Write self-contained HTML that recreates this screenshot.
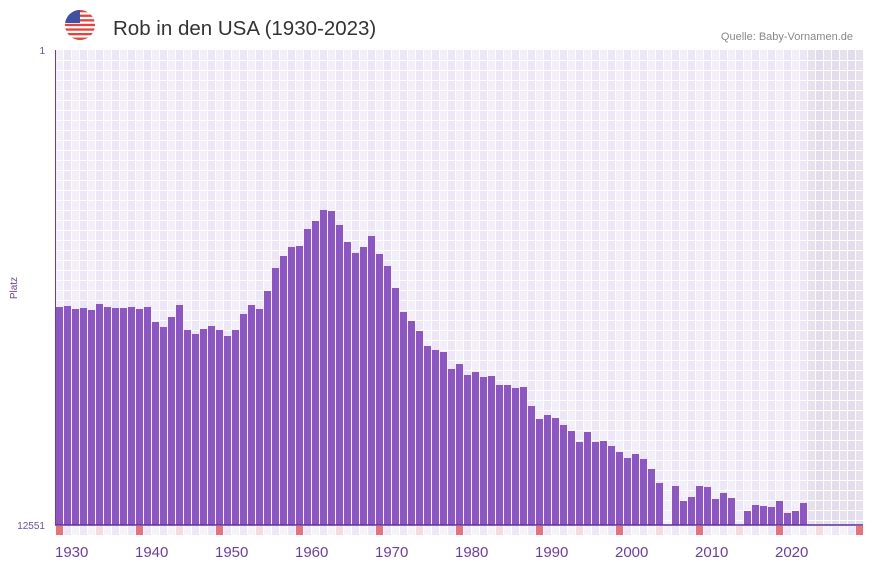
<!DOCTYPE html>
<html><head><meta charset="utf-8"><style>body{margin:0;background:#fff}svg{display:block}</style></head><body>
<svg id="s" width="873" height="567" xmlns="http://www.w3.org/2000/svg" font-family="Liberation Sans, sans-serif">
<defs>
<clipPath id="fc"><circle cx="80" cy="25" r="15"/></clipPath>
</defs>
<g clip-path="url(#fc)">
<rect x="65" y="10" width="30" height="30" fill="#fff"/>
<g fill="#e8413a"><rect x="65" y="10" width="30" height="2.3"/><rect x="65" y="14.6" width="30" height="2.3"/><rect x="65" y="19.2" width="30" height="2.3"/><rect x="65" y="23.8" width="30" height="2.3"/><rect x="65" y="28.4" width="30" height="2.3"/><rect x="65" y="33" width="30" height="2.3"/><rect x="65" y="37.6" width="30" height="2.4"/></g>
<rect x="65" y="10" width="15" height="13" fill="#3f51a3"/>
</g>
<text x="113" y="35" font-size="20.5" fill="#333">Rob in den USA (1930-2023)</text>
<text x="853" y="40" font-size="11" fill="#888" text-anchor="end">Quelle: Baby-Vornamen.de</text>
<g id="grid"></g>
<g id="bars" fill="#8e55c7"></g>
<line x1="55.5" y1="50" x2="55.5" y2="525" stroke="#6b3fa0" stroke-width="1"/>
<line x1="55" y1="525" x2="863" y2="525" stroke="#5a3190" stroke-width="1.5"/>
<text x="45" y="54" font-size="10" fill="#6b4fa0" text-anchor="end">1</text>
<text x="45" y="529" font-size="10" fill="#6b4fa0" text-anchor="end">12551</text>
<text x="17" y="288" font-size="10" fill="#6b3fa0" text-anchor="middle" transform="rotate(-90 17 288)">Platz</text>
<g id="lbl" font-size="15" fill="#6b3fa0"></g>
</svg>
<script>
var ns="http://www.w3.org/2000/svg";
function el(p,t,a){var e=document.createElementNS(ns,t);for(var k in a)e.setAttribute(k,a[k]);p.appendChild(e);return e;}
var g=document.getElementById('grid');
el(g,'rect',{x:55,y:50,width:808,height:475,fill:'#f3effa'});
for(var i=0;i<101;i++){var x=55+8*i;
 if(i%2==1)el(g,'rect',{x:x,y:50,width:8,height:475,fill:'#ece6f7'});
 if(i>=94)el(g,'rect',{x:x,y:50,width:8,height:475,fill:i%2?'#e2dcec':'#e6e1ee'});
 var y=1930+i,c=(y%10==0)?'#e8737a':(y%5==0)?'#f7d9e0':(i%2?'#ede8f7':'#f5f2fb');
 el(g,'rect',{x:x+1,y:526,width:7,height:9,fill:c});
}
for(var i=0;i<=101;i++)el(g,'rect',{x:55+8*i,y:50,width:1,height:475,fill:'#fff'});
for(var y=60;y<525;y+=10)el(g,'rect',{x:55,y:y,width:808,height:1,fill:'#fff'});
var t={1930:307,1931:306,1932:309,1933:308,1934:310,1935:304,1936:307,1937:308,1938:308,1939:307,1940:309,1941:307,1942:322,1943:327,1944:317,1945:305,1946:330,1947:334,1948:329,1949:326,1950:330,1951:336,1952:330,1953:314,1954:305,1955:309,1956:291,1957:268,1958:256,1959:247,1960:246,1961:229,1962:221,1963:210,1964:211,1965:225,1966:242,1967:253,1968:247,1969:236,1970:254,1971:266,1972:288,1973:312,1974:321,1975:331,1976:346,1977:350,1978:352,1979:369,1980:364,1981:375,1982:372,1983:377,1984:376,1985:385,1986:385,1987:388,1988:387,1989:406,1990:419,1991:415,1992:418,1993:425,1994:431,1995:442,1996:432,1997:442,1998:441,1999:446,2000:452,2001:458,2002:454,2003:459,2004:469,2005:483,2007:486,2008:501,2009:497,2010:486,2011:487,2012:499,2013:493,2014:498,2016:511,2017:505,2018:506,2019:507,2020:501,2021:513,2022:511,2023:503};
var b=document.getElementById('bars');
for(var y in t){var x=55+8*(y-1930)+1;el(b,'rect',{x:x,y:t[y],width:7,height:525-t[y]});}
var l=document.getElementById('lbl');
for(var y=1930;y<=2020;y+=10){var e=el(l,'text',{x:55+8*(y-1930),y:557});e.textContent=y;}
</script>
</body></html>
